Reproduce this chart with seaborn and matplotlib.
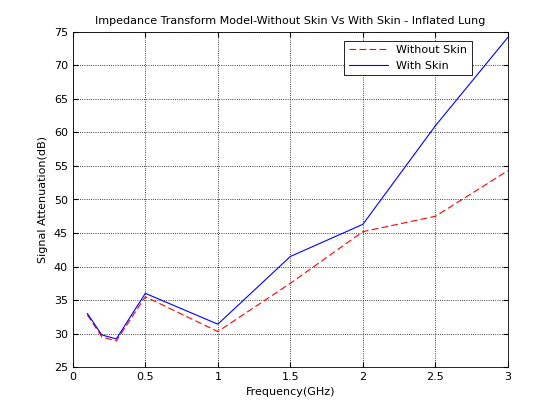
import matplotlib
matplotlib.use("Agg")
import matplotlib.pyplot as plt
import pandas as pd
import seaborn as sns

freq_ghz = [0.1, 0.2, 0.3, 0.5, 1.0, 1.5, 2.0, 2.5, 3.0]
without_skin = [32.8, 29.5, 28.9, 35.5, 30.3, 37.5, 45.2, 47.5, 54.3]
with_skin = [33.0, 29.8, 29.2, 36.0, 31.4, 41.5, 46.3, 61.0, 74.2]

df = pd.DataFrame({
    "freq": freq_ghz * 2,
    "atten": without_skin + with_skin,
    "series": ["Without Skin"] * len(freq_ghz) + ["With Skin"] * len(freq_ghz),
})

sns.set_style("ticks")
plt.rcParams["font.family"] = ["DejaVu Sans"]
plt.rcParams.update({"text.color": "black", "axes.labelcolor": "black",
                     "xtick.color": "black", "ytick.color": "black",
                     "axes.edgecolor": "black", "legend.handlelength": 3.5})

fig = plt.figure(figsize=(5.6, 4.2), dpi=100)
ax = fig.add_axes([0.130, 0.126, 0.777, 0.798])

sns.lineplot(data=df, x="freq", y="atten", hue="series", style="series",
             palette={"Without Skin": "red", "With Skin": "blue"},
             dashes={"Without Skin": (6, 3), "With Skin": ""},
             linewidth=0.8, ax=ax)

ax.set_xlim(0, 3)
ax.set_ylim(25, 75)
ax.set_xticks([0, 0.5, 1, 1.5, 2, 2.5, 3])
ax.set_xticklabels(["0", "0.5", "1", "1.5", "2", "2.5", "3"])
ax.set_yticks(range(25, 80, 5))
ax.grid(True, linestyle=":", color="black", linewidth=0.6)
ax.tick_params(direction="in", labelsize=8, top=True, right=True)
for s in ax.spines.values():
    s.set_linewidth(0.6)
ax.set_xlabel("Frequency(GHz)", fontsize=8)
ax.set_ylabel("Signal Attenuation(dB)", fontsize=8)
ax.set_title("Impedance Transform Model-Without Skin Vs With Skin - Inflated Lung", fontsize=8)
leg = ax.legend(loc="upper right", fontsize=8, fancybox=False, framealpha=1,
                edgecolor="black", bbox_to_anchor=(0.93, 0.99))
leg.get_frame().set_linewidth(0.6)

fig.savefig("out.png", dpi=100)
